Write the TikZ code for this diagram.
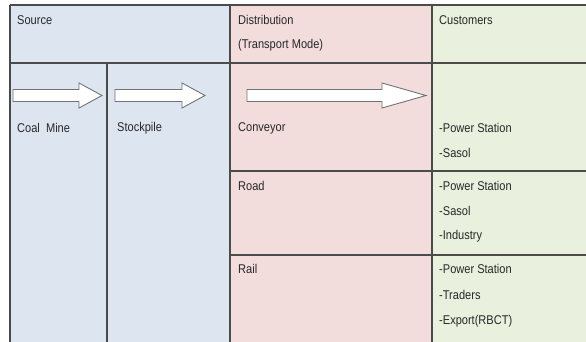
\documentclass[tikz,border=0pt]{standalone}
\usepackage{fontspec}
\setmainfont{Liberation Sans}[FakeStretch=0.87]
\usepackage{xcolor}
\definecolor{srcblue}{RGB}{220,229,240}
\definecolor{distpink}{RGB}{242,220,220}
\definecolor{custgreen}{RGB}{233,240,222}
\definecolor{gridline}{RGB}{75,75,75}
\definecolor{txt}{RGB}{40,40,40}

\begin{document}
\begin{tikzpicture}[x=1pt,y=-1pt]
    \tikzstyle{grid}=[draw=gridline, line width=1.3pt]
    \tikzstyle{lbl}=[anchor=west, inner sep=0pt, text=txt, font=\fontsize{12.7}{15}\selectfont]
    \tikzstyle{fatarrow}=[draw=black!55, fill=white, line width=0.9pt, line join=miter]

    \useasboundingbox (0,0) rectangle (586,342);

%   column backgrounds
    \fill[srcblue] (10,5) rectangle (230,342);
    \fill[distpink] (230,5) rectangle (432,342);
    \fill[custgreen] (432,5) rectangle (586,342);

%   grid
    \draw[grid] (10,5) -- (586,5);
    \draw[grid] (10,63) -- (586,63);
    \draw[grid] (230,171) -- (586,171);
    \draw[grid] (230,255) -- (586,255);
    \draw[grid] (10,5) -- (10,342);
    \draw[grid] (107,63) -- (107,342);
    \draw[grid] (230,5) -- (230,342);
    \draw[grid] (432,5) -- (432,342);

%   block arrows
    \draw[fatarrow] (13,89.5) -- (79,89.5) -- (79,83) -- (102,95.5) -- (79,108) -- (79,101.5) -- (13,101.5) -- cycle;
    \draw[fatarrow] (115,89.5) -- (182,89.5) -- (182,83) -- (205,95.5) -- (182,108) -- (182,101.5) -- (115,101.5) -- cycle;
    \draw[fatarrow] (247,89.5) -- (382,89.5) -- (382,83) -- (426,95.5) -- (382,108) -- (382,101.5) -- (247,101.5) -- cycle;

%   headers
    \node[lbl] (src) at (17,20) {Source};
    \node[lbl] (dist) at (238,20) {Distribution};
    \node[lbl] (mode) at (238,45) {(Transport Mode)};
    \node[lbl] (cust) at (439,20) {Customers};

%   source
    \node[lbl] (mine) at (17,128) {Coal\ \ Mine};
    \node[lbl] (pile) at (117,128) {Stockpile};

%   transport modes
    \node[lbl] (conv) at (238,128) {Conveyor};
    \node[lbl] (road) at (238,186) {Road};
    \node[lbl] (rail) at (238,269) {Rail};

%   customers per mode
    \node[lbl] (conv-1) at (439,128) {-Power Station};
    \node[lbl] (conv-2) at (439,153) {-Sasol};

    \node[lbl] (road-1) at (439,186) {-Power Station};
    \node[lbl] (road-2) at (439,211) {-Sasol};
    \node[lbl] (road-3) at (439,236) {-Industry};

    \node[lbl] (rail-1) at (439,269) {-Power Station};
    \node[lbl] (rail-2) at (439,295) {-Traders};
    \node[lbl] (rail-3) at (439,321) {-Export(RBCT)};
\end{tikzpicture}
\end{document}
